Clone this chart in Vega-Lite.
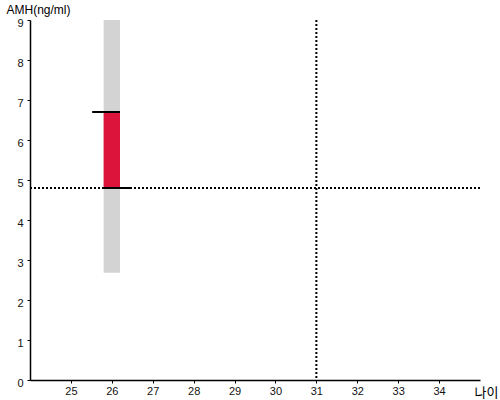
{
  "$schema": "https://vega.github.io/schema/vega-lite/v6.json",
  "width": 450,
  "height": 360,
  "autosize": "none",
  "padding": {"left": 30, "top": 20, "right": 20, "bottom": 20},
  "background": "white",
  "config": {
    "view": {"stroke": null},
    "axis": {
      "grid": false,
      "domainColor": "black",
      "domainWidth": 1.5,
      "tickColor": "black",
      "tickSize": 3,
      "labelFont": "Liberation Sans",
      "labelFontSize": 11,
      "labelColor": "#111",
      "labelOverlap": false,
      "labelFlush": false,
      "titleFontWeight": "normal",
      "titleColor": "black"
    },
    "axisX": {
      "titleFont": "Noto Sans CJK KR",
      "titleFontSize": 13,
      "titleAlign": "left",
      "titleBaseline": "middle",
      "titleAnchor": null,
      "titleX": 444,
      "titleY": 12,
      "labelPadding": 2
    },
    "axisY": {
      "titleFont": "Liberation Sans",
      "titleFontSize": 12,
      "titleAngle": 0,
      "titleAlign": "left",
      "titleBaseline": "alphabetic",
      "titleAnchor": null,
      "titleX": -24,
      "titleY": -7,
      "labelPadding": 4,
      "labelOffset": 3
    }
  },
  "datasets": {
    "range": [{"age": 26, "lo": 2.68, "hi": 9, "x1": 25.8, "x2": 26.2}],
    "mine": [{"lo": 4.8, "hi": 6.7, "x1": 25.8, "x2": 26.2}],
    "ticks": [
      {"x1": 25.52, "x2": 26.2, "y": 6.7},
      {"x1": 25.8, "x2": 26.47, "y": 4.8}
    ],
    "ref": [{"age": 31, "amh": 4.8}]
  },
  "layer": [
    {
      "data": {"name": "range"},
      "mark": {"type": "rect", "color": "#d3d3d3"},
      "encoding": {
        "x": {
          "field": "x1", "type": "quantitative",
          "scale": {"domain": [24, 35], "nice": false, "zero": false},
          "axis": {"title": "나이", "values": [25, 26, 27, 28, 29, 30, 31, 32, 33, 34]}
        },
        "x2": {"field": "x2"},
        "y": {
          "field": "lo", "type": "quantitative",
          "scale": {"domain": [0, 9], "nice": false},
          "axis": {"title": "AMH(ng/ml)", "values": [0, 1, 2, 3, 4, 5, 6, 7, 8, 9]}
        },
        "y2": {"field": "hi"}
      }
    },
    {
      "data": {"name": "mine"},
      "mark": {"type": "rect", "color": "#dc143c"},
      "encoding": {
        "x": {"field": "x1", "type": "quantitative", "axis": {"title": "나이", "values": [25, 26, 27, 28, 29, 30, 31, 32, 33, 34]}},
        "x2": {"field": "x2"},
        "y": {"field": "lo", "type": "quantitative", "axis": {"title": "AMH(ng/ml)", "values": [0, 1, 2, 3, 4, 5, 6, 7, 8, 9]}},
        "y2": {"field": "hi"}
      }
    },
    {
      "data": {"name": "ref"},
      "mark": {"type": "rule", "color": "black", "strokeWidth": 2, "strokeDash": [2, 2]},
      "encoding": {
        "y": {"field": "amh", "type": "quantitative", "axis": {"title": "AMH(ng/ml)", "values": [0, 1, 2, 3, 4, 5, 6, 7, 8, 9]}}
      }
    },
    {
      "data": {"name": "ref"},
      "mark": {"type": "rule", "color": "black", "strokeWidth": 2, "strokeDash": [2, 2]},
      "encoding": {
        "x": {"field": "age", "type": "quantitative", "axis": {"title": "나이", "values": [25, 26, 27, 28, 29, 30, 31, 32, 33, 34]}}
      }
    },
    {
      "data": {"name": "ticks"},
      "mark": {"type": "rule", "color": "black", "strokeWidth": 2},
      "encoding": {
        "x": {"field": "x1", "type": "quantitative", "axis": {"title": "나이", "values": [25, 26, 27, 28, 29, 30, 31, 32, 33, 34]}},
        "x2": {"field": "x2"},
        "y": {"field": "y", "type": "quantitative", "axis": {"title": "AMH(ng/ml)", "values": [0, 1, 2, 3, 4, 5, 6, 7, 8, 9]}}
      }
    }
  ]
}
